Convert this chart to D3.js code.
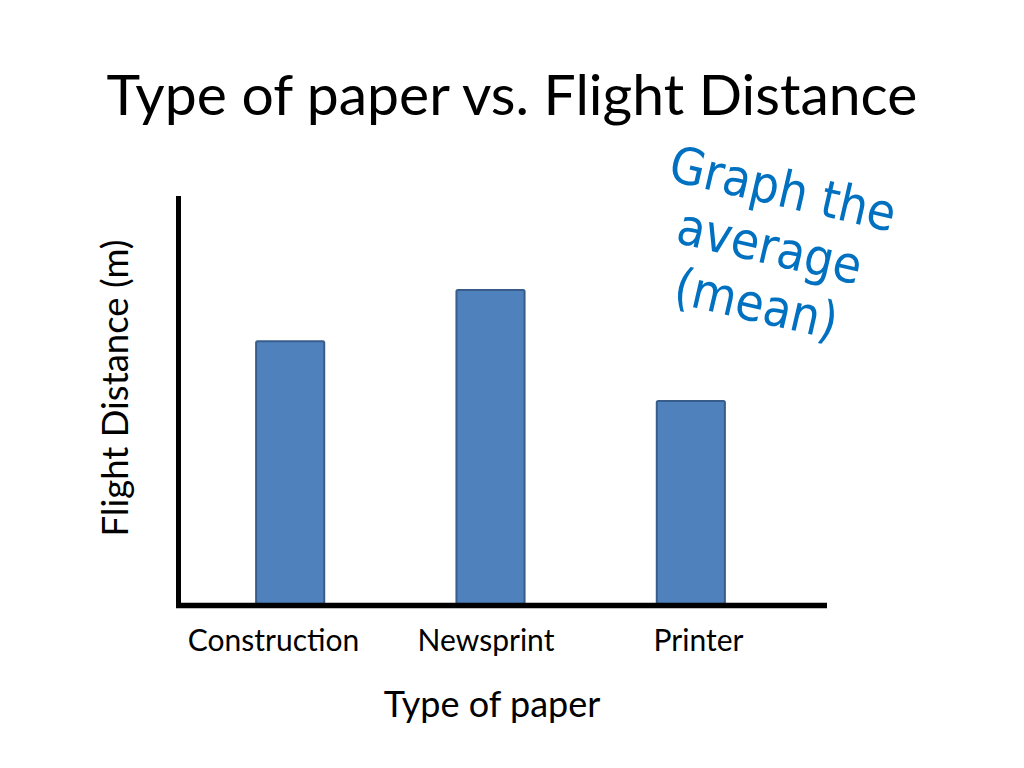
<!DOCTYPE html>
<html>
<head>
<meta charset="utf-8">
<script src="https://cdn.jsdelivr.net/npm/d3@7"></script>
<style>
  html, body { margin: 0; padding: 0; background: #fff; }
  svg { display: block; }
</style>
</head>
<body>
<svg id="chart" width="1024" height="768"></svg>
<script>
const categories = ["Construction", "Newsprint", "Printer"];
const values = [64.5, 77.0, 49.9];
const titleText = "Type of paper vs. Flight Distance";
const xTitle = "Type of paper";
const yTitle = "Flight Distance (m)";
const noteLines = ["Graph the", "average", "(mean)"];

const svg = d3.select("#chart");
const W = 1024, H = 768;
const font = "Lato, 'Open Sans', sans-serif";

svg.append("rect").attr("width", W).attr("height", H).attr("fill", "#fff");

const x = d3.scaleBand().domain(categories).range([190, 791]).paddingInner(0.66).paddingOuter(0.33);
const y = d3.scaleLinear().domain([0, 100]).range([605, 196]);
// label anchors (text boxes under the bars)
const xLabel = d3.scalePoint().domain(categories).range([273, 698]);

// Title
svg.append("text")
  .attr("x", 512).attr("y", 115)
  .attr("text-anchor", "middle")
  .attr("font-family", font).attr("font-size", 56)
  .attr("fill", "#000")
  .attr("textLength", 811).attr("lengthAdjust", "spacingAndGlyphs")
  .text(titleText);

// Bars
svg.append("g").selectAll("rect")
  .data(categories)
  .join("rect")
  .attr("x", d => x(d))
  .attr("y", (d, i) => y(values[i]))
  .attr("width", x.bandwidth())
  .attr("height", (d, i) => y(0) - y(values[i]))
  .attr("rx", 1.5)
  .attr("fill", "#4F81BD")
  .attr("stroke", "#385D8A")
  .attr("stroke-width", 2);

// Axes (thick black lines)
svg.append("line")
  .attr("x1", 178.5).attr("x2", 178.5)
  .attr("y1", y(100)).attr("y2", 608)
  .attr("stroke", "#000").attr("stroke-width", 5);
svg.append("line")
  .attr("x1", 176).attr("x2", 827)
  .attr("y1", 605.5).attr("y2", 605.5)
  .attr("stroke", "#000").attr("stroke-width", 5.5);

// Category labels
const xAxis = svg.append("g")
  .attr("transform", "translate(0,651)")
  .call(d3.axisBottom(xLabel).tickSize(0).tickPadding(0));
xAxis.select(".domain").remove();
xAxis.selectAll("text")
  .attr("dy", 0)
  .attr("font-family", font)
  .attr("font-size", 30)
  .attr("fill", "#000");

// Axis titles
svg.append("text")
  .attr("x", 492).attr("y", 717)
  .attr("text-anchor", "middle")
  .attr("font-family", font).attr("font-size", 36)
  .attr("fill", "#000")
  .text(xTitle);

svg.append("text")
  .attr("transform", "translate(128,388) rotate(-90)")
  .attr("text-anchor", "middle")
  .attr("font-family", font).attr("font-size", 36.5)
  .attr("fill", "#000")
  .text(yTitle);

// Handwritten note
const note = svg.append("text")
  .attr("transform", "translate(779,206) rotate(13)")
  .attr("text-anchor", "middle")
  .attr("font-family", "'DejaVu Sans Condensed', 'DejaVu Sans', sans-serif")
  .attr("font-stretch", "condensed")
  .attr("font-size", 51)
  .attr("fill", "#0070C0");
note.selectAll("tspan")
  .data(noteLines)
  .join("tspan")
  .attr("x", 0)
  .attr("dy", (d, i) => i === 0 ? 0 : 59)
  .text(d => d);
</script>
</body>
</html>
